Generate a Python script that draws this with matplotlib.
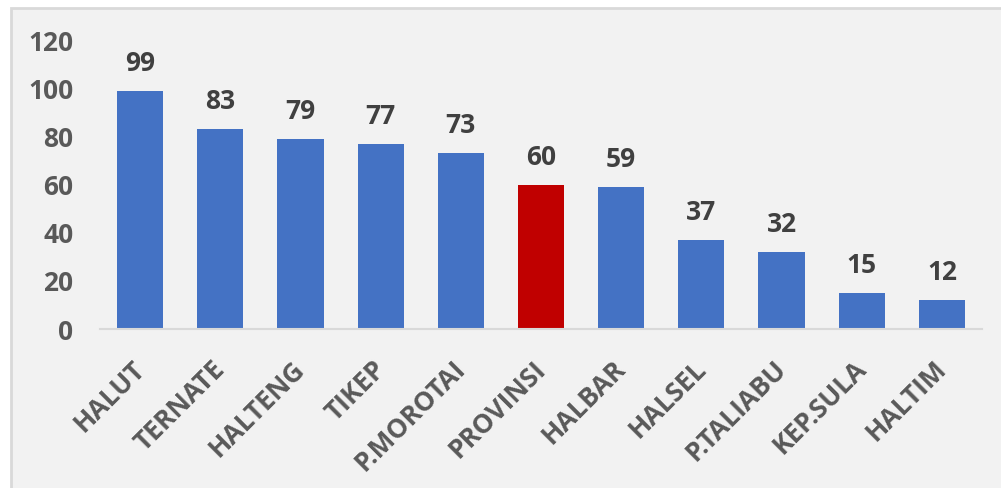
import matplotlib
matplotlib.use('Agg')
from matplotlib import pyplot as plt
from matplotlib.patches import Rectangle
from matplotlib.transforms import ScaledTranslation

regions = ['HALUT', 'TERNATE', 'HALTENG', 'TIKEP', 'P.MOROTAI', 'PROVINSI',
           'HALBAR', 'HALSEL', 'P.TALIABU', 'KEP.SULA', 'HALTIM']
values = [99, 83, 79, 77, 73, 60, 59, 37, 32, 15, 12]
highlight = 'PROVINSI'
y_ticks = [0, 20, 40, 60, 80, 100, 120]

plt.rcParams['font.family'] = ['Open Sans', 'DejaVu Sans']
plt.rcParams['font.weight'] = 'bold'

W, H = 1001, 488
fig = plt.figure(figsize=(W / 100, H / 100), dpi=100, facecolor='white')

# chart area background with border on top/left
fig.patches.append(Rectangle((10.5 / W, -0.05), 1.1, 1 - 7.5 / H + 0.05,
                             transform=fig.transFigure, facecolor='#F2F2F2',
                             edgecolor='#D9D9D9', linewidth=2, zorder=-1))

ax = fig.add_axes([100 / W, (H - 329) / H, 882 / W, 289 / H])
ax.set_facecolor('none')

colors = ['#C00000' if r == highlight else '#4472C4' for r in regions]
x = list(range(len(regions)))
bars = ax.bar(x, values, width=0.575, color=colors, zorder=2)

for b, v in zip(bars, values):
    ax.annotate(str(v), (b.get_x() + b.get_width() / 2, v), xytext=(0, 10),
                textcoords='offset points', ha='center', va='bottom',
                fontsize=19, fontweight='bold', color='#404040')

ax.set_xlim(-0.5, len(regions) - 0.5)
ax.set_ylim(0, 120)
ax.set_yticks(y_ticks)
ax.set_yticklabels([str(t) for t in y_ticks], fontsize=19, fontweight='bold', color='#595959')
ax.set_xticks(x)
ax.set_xticklabels(regions, rotation=45, ha='right', rotation_mode='anchor',
                   fontsize=19, fontweight='bold', color='#595959')
ax.tick_params(axis='both', length=0)
ax.tick_params(axis='y', pad=19)
ax.tick_params(axis='x', pad=14)

# nudge category labels a little left/down
shift = ScaledTranslation(-9 / 100, -7 / 100, fig.dpi_scale_trans)
for lbl in ax.get_xticklabels():
    lbl.set_transform(lbl.get_transform() + shift)

for s in ['top', 'right', 'left']:
    ax.spines[s].set_visible(False)
ax.spines['bottom'].set_color('#D9D9D9')
ax.spines['bottom'].set_linewidth(1.5)

fig.savefig('out.png', dpi=100, facecolor=fig.get_facecolor())
